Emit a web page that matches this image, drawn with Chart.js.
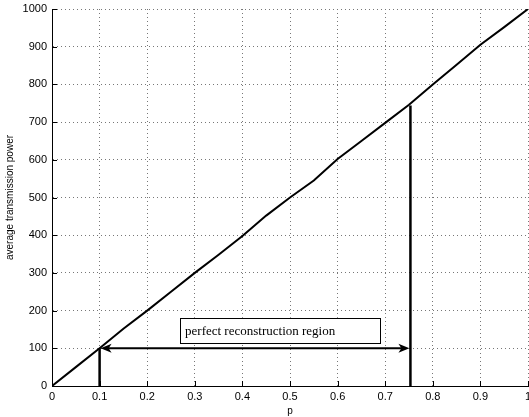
<!DOCTYPE html>
<html>
<head>
<meta charset="utf-8">
<title>average transmission power vs p</title>
<script src="https://cdn.jsdelivr.net/npm/chart.js@4/dist/chart.umd.min.js"></script>
<style>
  html, body { margin: 0; padding: 0; background: #fff; }
  #chart { display: block; }
</style>
</head>
<body>
<canvas id="chart" width="529" height="417"></canvas>
<script>
// values
var pValues = [0, 0.05, 0.1, 0.15, 0.2, 0.25, 0.3, 0.35, 0.4, 0.45, 0.5,
               0.55, 0.6, 0.65, 0.7, 0.75, 0.8, 0.85, 0.9, 0.95, 1];
var powerValues = [0, 50, 100, 152, 200, 250, 300, 348, 398, 452, 500,
                   545, 602, 650, 698, 746, 800, 852, 905, 952, 1000];

var regionStart = 0.1;
var regionEnd = 0.753;
var regionLevel = 100;
var regionEndPower = 744;
var regionLabel = 'perfect reconstruction region';

var xTicks = [0, 0.1, 0.2, 0.3, 0.4, 0.5, 0.6, 0.7, 0.8, 0.9, 1];
var yTicks = [0, 100, 200, 300, 400, 500, 600, 700, 800, 900, 1000];

var curve = pValues.map(function (p, i) { return {x: p, y: powerValues[i]}; });

// arrowheads, inward ticks and the label box
var annotations = {
  id: 'annotations',
  afterDatasetsDraw: function (chart) {
    var ctx = chart.ctx, xs = chart.scales.x, ys = chart.scales.y;
    var area = chart.chartArea;
    ctx.save();

    // inward ticks
    ctx.strokeStyle = '#000';
    ctx.lineWidth = 1;
    ctx.beginPath();
    yTicks.forEach(function (v) {
      var py = Math.round(ys.getPixelForValue(v)) + 0.5;
      ctx.moveTo(area.left, py);
      ctx.lineTo(area.left + 5, py);
    });
    xTicks.forEach(function (v) {
      var px = Math.round(xs.getPixelForValue(v)) + 0.5;
      ctx.moveTo(px, area.bottom);
      ctx.lineTo(px, area.bottom - 5);
    });
    ctx.stroke();

    // arrow heads
    var y = ys.getPixelForValue(regionLevel);
    var x1 = xs.getPixelForValue(regionStart);
    var x2 = xs.getPixelForValue(regionEnd);
    ctx.fillStyle = '#000';
    function head(x, dir) {
      ctx.beginPath();
      ctx.moveTo(x, y);
      ctx.lineTo(x + dir * 11, y - 4.5);
      ctx.lineTo(x + dir * 8, y);
      ctx.lineTo(x + dir * 11, y + 4.5);
      ctx.closePath();
      ctx.fill();
    }
    head(x1 + 1, 1);
    head(x2 - 1, -1);

    // label box
    var bx1 = xs.getPixelForValue(0.269), bx2 = xs.getPixelForValue(0.689);
    var by1 = ys.getPixelForValue(181), by2 = ys.getPixelForValue(115);
    ctx.fillStyle = '#fff';
    ctx.fillRect(bx1, by1, bx2 - bx1, by2 - by1);
    ctx.strokeStyle = '#000';
    ctx.lineWidth = 1;
    ctx.strokeRect(Math.round(bx1) + 0.5, Math.round(by1) + 0.5,
                   Math.round(bx2 - bx1), Math.round(by2 - by1));
    ctx.fillStyle = '#000';
    ctx.font = '13px "Liberation Serif", "Times New Roman", serif';
    ctx.textBaseline = 'middle';
    ctx.textAlign = 'left';
    ctx.fillText(regionLabel, bx1 + 5, (by1 + by2) / 2 + 1);

    ctx.restore();
  }
};

var ctx = document.getElementById('chart').getContext('2d');
var chart = new Chart(ctx, {
  type: 'line',
  data: {
    datasets: [
      {
        label: 'average transmission power',
        data: curve,
        borderColor: '#000',
        borderWidth: 2,
        pointRadius: 0,
        tension: 0
      },
      {
        label: 'start',
        data: [{x: regionStart, y: 0}, {x: regionStart, y: regionLevel}],
        borderColor: '#000',
        borderWidth: 2.5,
        pointRadius: 0
      },
      {
        label: 'end',
        data: [{x: regionEnd, y: 0}, {x: regionEnd, y: regionEndPower}],
        borderColor: '#000',
        borderWidth: 2.5,
        pointRadius: 0
      },
      {
        label: 'region',
        data: [{x: regionStart + 0.01, y: regionLevel}, {x: regionEnd - 0.01, y: regionLevel}],
        borderColor: '#000',
        borderWidth: 2,
        pointRadius: 0
      }
    ]
  },
  options: {
    responsive: false,
    animation: false,
    layout: { padding: { top: 9, right: 1, left: 0, bottom: 0 } },
    plugins: {
      legend: { display: false },
      tooltip: { enabled: false }
    },
    scales: {
      x: {
        type: 'linear',
        min: 0,
        max: 1,
        afterBuildTicks: function (scale) {
          scale.ticks = xTicks.map(function (v) { return {value: v}; });
        },
        afterFit: function (scale) {
          scale.height = 31;
          scale.paddingLeft = 0;
          scale.paddingRight = 0;
        },
        grid: { color: '#777', lineWidth: 1, drawTicks: false },
        border: { display: true, color: '#000', width: 1, dash: [1, 3] },
        ticks: {
          color: '#000',
          padding: 4,
          maxRotation: 0,
          autoSkip: false,
          font: { family: '"Liberation Sans", Arial, sans-serif', size: 11 },
          callback: function (v) { return String(Math.round(v * 10) / 10); }
        },
        title: {
          display: true,
          text: 'p',
          color: '#000',
          padding: { top: -2, bottom: 0 },
          font: { family: '"Liberation Sans", Arial, sans-serif', size: 10 }
        }
      },
      y: {
        type: 'linear',
        min: 0,
        max: 1000,
        afterBuildTicks: function (scale) {
          scale.ticks = yTicks.map(function (v) { return {value: v}; });
        },
        afterFit: function (scale) {
          scale.width = 52;
          scale.paddingTop = 0;
          scale.paddingBottom = 0;
        },
        grid: { color: '#777', lineWidth: 1, drawTicks: false },
        border: { display: true, color: '#000', width: 1, dash: [1, 3] },
        ticks: {
          color: '#000',
          padding: 5,
          autoSkip: false,
          font: { family: '"Liberation Sans", Arial, sans-serif', size: 11 },
          callback: function (v) { return String(v); }
        },
        title: {
          display: true,
          text: 'average transmission power',
          color: '#000',
          padding: { top: 4, bottom: 0 },
          font: { family: '"Liberation Sans", Arial, sans-serif', size: 10 }
        }
      }
    }
  },
  plugins: [annotations]
});
</script>
</body>
</html>
